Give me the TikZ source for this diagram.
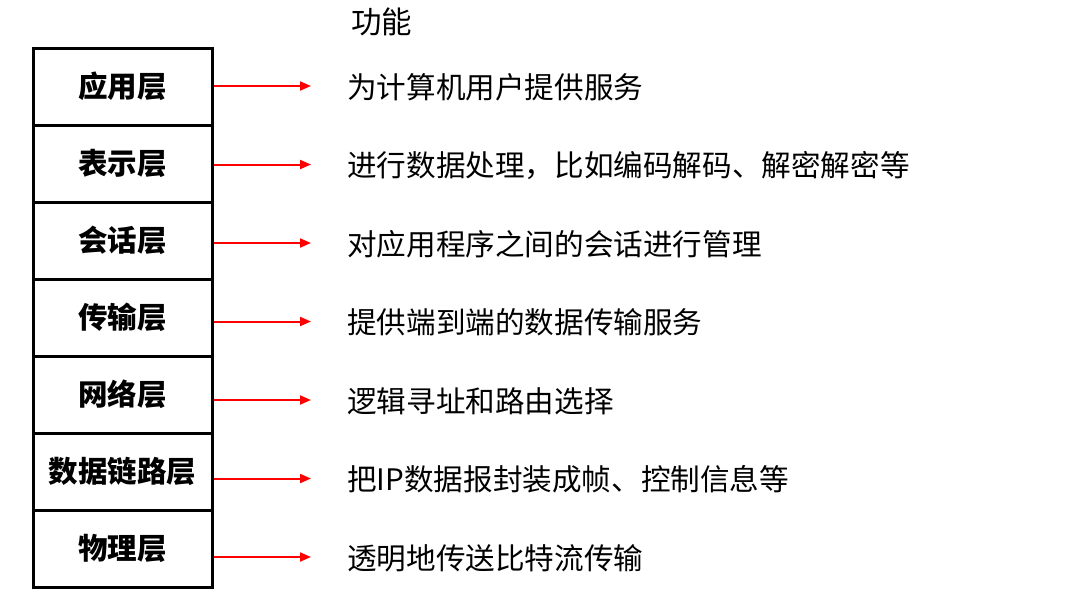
\documentclass[tikz,border=0pt]{standalone}
\usepackage{fontspec}
\newfontfamily\cjk{Noto Sans CJK SC}
\usetikzlibrary{arrows.meta}
\begin{document}
\begin{tikzpicture}[x=1pt,y=1pt,
  layer/.style={draw=black,line width=3pt,minimum width=179pt,minimum height=77pt,inner sep=0pt,
    font=\cjk\bfseries\fontsize{29.5}{33}\selectfont},
  func/.style={anchor=west,inner sep=0pt,font=\cjk\fontsize{29.6}{34}\selectfont},
  arr/.style={draw=red,line width=2pt,-{Triangle[length=11pt,width=9pt]}}]
\useasboundingbox (0,0) rectangle (1070,-595);
\node[anchor=west,inner sep=0pt,font=\cjk\fontsize{30.5}{34}\selectfont] (title) at (351,-22) {功能};
\foreach \i/\lab in {1/应用层,2/表示层,3/会话层,4/传输层,5/网络层,6/数据链路层,7/物理层}{
  \node[layer] (r\i) at (122.5,{-48-77*(\i-0.5)}) {\lab};
}
\foreach \i/\txt in {1/为计算机用户提供服务,2/进行数据处理，比如编码解码、解密解密等,3/对应用程序之间的会话进行管理,4/提供端到端的数据传输服务,5/逻辑寻址和路由选择,6/把IP数据报封装成帧、控制信息等,7/透明地传送比特流传输}{
  \node[func] (t\i) at (347,{-87-78.5*(\i-1)}) {\txt};
  \coordinate (e\i) at (311,{-86-78.5*(\i-1)});
  \draw[arr] (r\i.east |- e\i) -- (e\i);
}
\end{tikzpicture}
\end{document}
